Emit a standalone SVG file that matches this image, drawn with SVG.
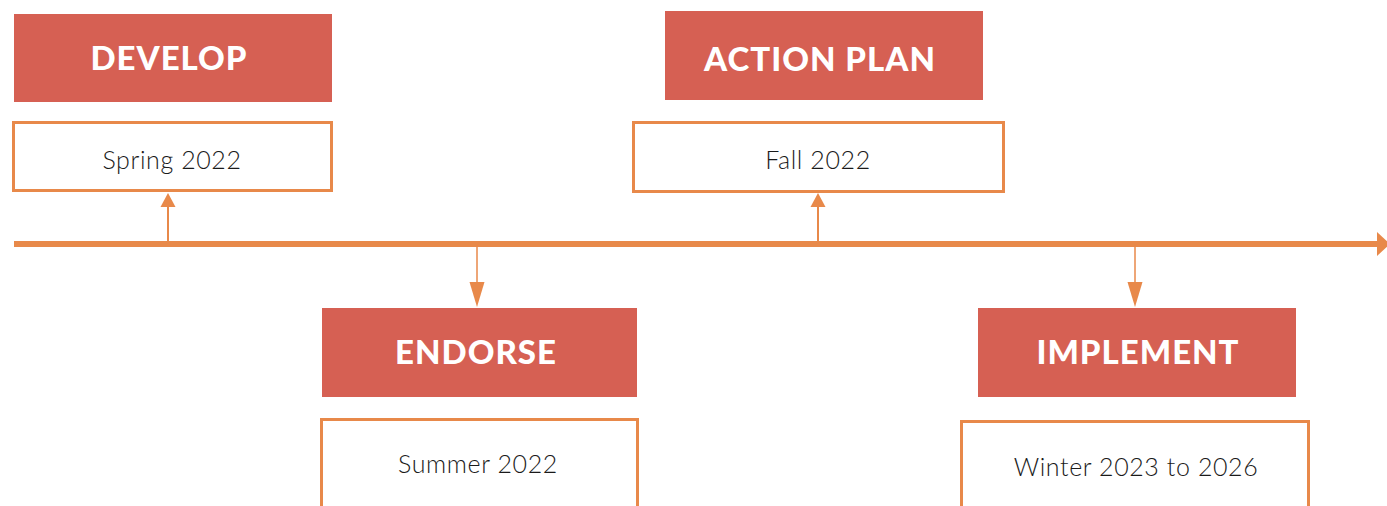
<svg xmlns="http://www.w3.org/2000/svg" width="1387" height="506" viewBox="0 0 1387 506">
<style>
.head{fill:#D66053}
.date{fill:#FFFFFF;stroke:#E8894A;stroke-width:3}
.ht{font-family:Lato,"Open Sans",sans-serif;font-weight:900;font-size:33px;fill:#FFFFFF;text-anchor:middle;letter-spacing:1px}
.dt{font-family:Lato,"Noto Sans",sans-serif;font-weight:300;font-size:25px;fill:#1a1a1a;text-anchor:middle;letter-spacing:0.6px}
.ln{stroke:#E8894A;fill:none}
.ah{fill:#E8894A}
</style>
<rect width="1387" height="506" fill="#FFFFFF"/>
<g id="connectors">
<line class="ln" x1="14" y1="244" x2="1380" y2="244" stroke-width="6"/>
<polygon class="ah" points="1377,232 1390,244 1377,256"/>
<line class="ln" x1="168" y1="244" x2="168" y2="205" stroke-width="2"/>
<polygon class="ah" points="160.5,207 168,193 175.5,207"/>
<line class="ln" x1="818" y1="244" x2="818" y2="205" stroke-width="2"/>
<polygon class="ah" points="810.5,207 818,193 825.5,207"/>
<line class="ln" x1="477" y1="244" x2="477" y2="285" stroke-width="1.5"/>
<polygon class="ah" points="469.5,282 484.5,282 477,307"/>
<line class="ln" x1="1135" y1="244" x2="1135" y2="285" stroke-width="1.5"/>
<polygon class="ah" points="1127.5,282 1142.5,282 1135,307"/>
</g>
<g id="develop">
<rect class="head" x="14" y="14" width="318" height="88"/>
<text class="ht" x="169" y="70">DEVELOP</text>
</g>
<g id="spring">
<rect class="date" x="13.5" y="122.5" width="318" height="68"/>
<text class="dt" x="172" y="169">Spring 2022</text>
</g>
<g id="action-plan">
<rect class="head" x="665" y="11" width="318" height="89"/>
<text class="ht" x="820" y="71">ACTION PLAN</text>
</g>
<g id="fall">
<rect class="date" x="633.5" y="122.5" width="370" height="69"/>
<text class="dt" x="818" y="169">Fall 2022</text>
</g>
<g id="endorse">
<rect class="head" x="322" y="308" width="315" height="89"/>
<text class="ht" x="476" y="364">ENDORSE</text>
</g>
<g id="summer">
<rect class="date" x="321.5" y="419.5" width="316" height="100"/>
<text class="dt" x="478" y="473">Summer 2022</text>
</g>
<g id="implement">
<rect class="head" x="978" y="308" width="318" height="89"/>
<text class="ht" x="1138" y="364">IMPLEMENT</text>
</g>
<g id="winter">
<rect class="date" x="961.5" y="421.5" width="347" height="100"/>
<text class="dt" x="1136" y="476">Winter 2023 to 2026</text>
</g>
</svg>
